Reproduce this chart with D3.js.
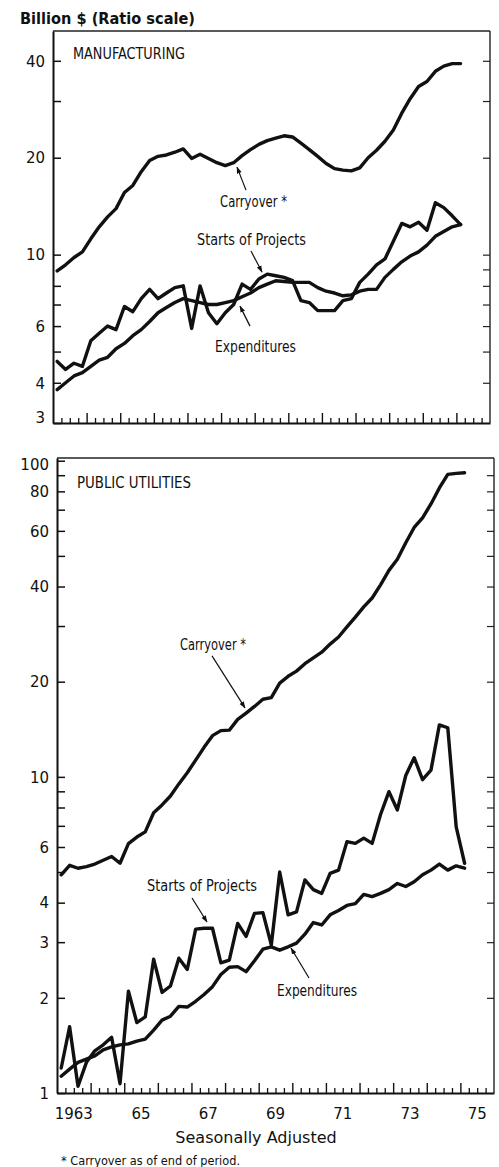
<!DOCTYPE html>
<html><head><meta charset="utf-8">
<script src="https://cdn.jsdelivr.net/npm/d3@7"></script>
<style>
body{margin:0;background:#fff;}
svg{display:block;background:#fff;}
.num{font-family:"DejaVu Sans",sans-serif;fill:#111;}
.lbl{font-family:"Liberation Sans Narrow","Arial Narrow","DejaVu Sans Condensed",sans-serif;font-stretch:condensed;fill:#111;}
</style></head><body>
<svg id="c" width="499" height="1167"></svg>
<script>
// ---------- DATA (quarterly, billion $, seasonally adjusted, 1963 Q1 - 1975 Q1) ----------
const years = [1963,1964,1965,1966,1967,1968,1969,1970,1971,1972,1973,1974,1975];
const quarterNums = [1,2,3,4];
const periods = [];
years.forEach(y => quarterNums.forEach(q => { if (periods.length < 49) periods.push({year:y, q:q}); }));

const mfgCarryover = [8.9,9.3,9.8,10.2,11.2,12.2,13.1,13.9,15.6,16.4,18.1,19.6,20.2,20.4,20.8,21.3,19.9,20.5,19.9,19.3,18.9,19.3,20.3,21.2,22.0,22.6,23.0,23.4,23.2,22.2,21.2,20.2,19.2,18.5,18.3,18.2,18.6,20.0,21.1,22.5,24.4,27.5,30.5,33.3,34.5,37.1,38.5,39.2,39.2];
const mfgStarts    = [4.66,4.4,4.6,4.5,5.4,5.7,6.0,5.85,6.9,6.65,7.3,7.8,7.3,7.6,7.9,8.0,5.9,8.0,6.6,6.1,6.6,7.0,8.1,7.8,8.4,8.7,8.6,8.5,8.3,7.2,7.1,6.7,6.7,6.7,7.2,7.3,8.2,8.7,9.3,9.7,11.0,12.5,12.2,12.6,11.9,14.5,14.0,13.2,12.4];
const mfgExpend    = [3.81,4.0,4.2,4.3,4.5,4.7,4.8,5.1,5.3,5.6,5.85,6.2,6.6,6.85,7.1,7.3,7.2,7.1,7.0,7.0,7.1,7.2,7.4,7.6,7.9,8.1,8.3,8.25,8.2,8.2,8.2,7.9,7.7,7.6,7.45,7.5,7.7,7.8,7.8,8.5,9.0,9.5,9.9,10.2,10.7,11.4,11.8,12.2,12.4];

const puCarryover  = [4.9,5.25,5.14,5.2,5.3,5.45,5.6,5.33,6.15,6.45,6.7,7.7,8.15,8.7,9.5,10.3,11.3,12.4,13.5,14.0,14.05,15.2,15.9,16.7,17.6,17.8,19.8,20.8,21.6,22.8,23.8,24.8,26.3,27.7,29.8,32,34.5,36.8,40.5,45,48.8,55,61.5,66,73,82,90.5,91.2,91.6];
const puStarts     = [1.2,1.62,1.05,1.25,1.36,1.42,1.5,1.07,2.1,1.67,1.74,2.65,2.08,2.18,2.67,2.46,3.3,3.32,3.32,2.58,2.63,3.44,3.13,3.7,3.72,2.94,5.0,3.66,3.74,4.72,4.4,4.28,4.95,5.07,6.24,6.16,6.4,6.16,7.6,8.98,7.86,10.1,11.5,9.8,10.5,14.6,14.3,6.95,5.33];
const puExpend     = [1.13,1.19,1.25,1.28,1.31,1.37,1.40,1.42,1.43,1.46,1.48,1.58,1.70,1.75,1.88,1.87,1.95,2.05,2.17,2.37,2.5,2.51,2.42,2.62,2.85,2.9,2.83,2.9,2.98,3.18,3.46,3.4,3.66,3.78,3.92,3.97,4.25,4.18,4.28,4.4,4.6,4.5,4.66,4.9,5.07,5.3,5.07,5.23,5.14];

// tick labels
const mfgTickLabels = [3,4,6,10,20,40];
const mfgLeftTicks  = [3,4,5,6,7,8,10,20,30,40];
const mfgRightTicks = [4,5,6,7,8,9,10,20,30,40];
const puTickLabels  = [1,2,3,4,6,10,20,40,60,80,100];
const puLeftTicks   = [1,2,3,4,5,6,7,8,9,10,20,30,40,50,60,70,80,90,100];
const puRightTicks  = [2,3,4,5,6,7,8,9,10,20,30,40,50,60,70,80,90];
const yearLabels    = ["1963","65","67","69","71","73","75"];
const yearLabelYears= [1963,1965,1967,1969,1971,1973,1975];

// ---------- LAYOUT ----------
const svg = d3.select("#c");
const panels = [
  { name:"MANUFACTURING", nameW:112, left:53, right:490, top:31, bottom:423, domain:[3,49.5],
    series:[mfgCarryover, mfgStarts, mfgExpend], leftTicks:mfgLeftTicks, rightTicks:mfgRightTicks,
    labels:mfgTickLabels, xLabels:false,
    ann:[
      {text:"Carryover *", w:67, tip:[1968.474,18.7], tail:[9,23], lab:[-17,40]},
      {text:"Starts of Projects", w:109, tip:[1969.217,8.83], tail:[-11,-21], lab:[-65,-27]},
      {text:"Expenditures", w:81, tip:[1968.563,6.92], tail:[10,20], lab:[-25,46]}
    ]},
  { name:"PUBLIC UTILITIES", nameW:114, left:57, right:494, top:458, bottom:1093, domain:[1,102],
    series:[puCarryover, puStarts, puExpend], leftTicks:puLeftTicks, rightTicks:puRightTicks,
    labels:puTickLabels, xLabels:true,
    ann:[
      {text:"Carryover *", w:66, tip:[1968.593,16.52], tail:[-33,-52], lab:[-65,-58]},
      {text:"Starts of Projects", w:110, tip:[1967.462,3.475], tail:[-15,-24], lab:[-60,-31]},
      {text:"Expenditures", w:80, tip:[1969.961,2.875], tail:[18,30], lab:[-14,48]}
    ]}
];

svg.append("defs").append("marker")
  .attr("id","ah").attr("viewBox","0 0 10 10").attr("refX",9).attr("refY",5)
  .attr("markerWidth",7).attr("markerHeight",7).attr("markerUnits","userSpaceOnUse")
  .attr("orient","auto")
  .append("path").attr("d","M0,1.5 L10,5 L0,8.5 Z").attr("fill","#111");

svg.append("text").attr("class","num").attr("x",20).attr("y",24)
  .attr("font-size",15).attr("font-weight","bold").attr("textLength",175)
  .attr("lengthAdjust","spacingAndGlyphs").text("Billion $ (Ratio scale)");

panels.forEach(p => {
  const x = d3.scaleLinear().domain([1963,1976]).range([p.left,p.right]);
  const y = d3.scaleLog().domain(p.domain).range([p.bottom,p.top]);
  const g = svg.append("g");

  // frame top
  g.append("line").attr("x1",p.left).attr("x2",p.right).attr("y1",p.top).attr("y2",p.top)
    .attr("stroke","#222").attr("stroke-width",1.4);

  // left axis
  const la = g.append("g").attr("transform",`translate(${p.left},0)`)
    .call(d3.axisLeft(y).tickValues(p.leftTicks).tickSize(-8).tickSizeOuter(0).tickPadding(8)
      .tickFormat(d => p.labels.includes(d) ? String(d) : ""));
  la.select(".domain").attr("stroke","#111").attr("stroke-width",2);
  la.selectAll(".tick line").attr("stroke","#111").attr("stroke-width",1.5);
  la.selectAll(".tick text").attr("class","num").attr("font-size",15).attr("fill","#111")
    .attr("dy", d => (d===3 && p.domain[0]===3) ? "-0.05em" : (d===100 ? "0.6em" : "0.35em"));

  // right axis
  const ra = g.append("g").attr("transform",`translate(${p.right},0)`)
    .call(d3.axisRight(y).tickValues(p.rightTicks).tickSize(-7).tickSizeOuter(0).tickFormat(""));
  ra.select(".domain").attr("stroke","#222").attr("stroke-width",1.4)
    .attr("d",`M0,${p.top}V${p.bottom}`);
  ra.selectAll(".tick line").attr("stroke","#222").attr("stroke-width",1.2);

  // bottom axis: quarter ticks and year ticks
  const qTicks = [];
  years.forEach(yr => quarterNums.forEach(q => { if (q>1) qTicks.push(yr + (q-1)/4); }));
  const ba = g.append("g").attr("transform",`translate(0,${p.bottom})`)
    .call(d3.axisBottom(x).tickValues(qTicks).tickSize(-5).tickSizeOuter(0).tickFormat(""));
  ba.select(".domain").attr("stroke","#111").attr("stroke-width",2);
  ba.selectAll(".tick line").attr("stroke","#111").attr("stroke-width",1.3);
  const ya = g.append("g").attr("transform",`translate(0,${p.bottom})`)
    .call(d3.axisBottom(x).tickValues(years.slice(1)).tickSize(-10).tickSizeOuter(0).tickFormat(""));
  ya.select(".domain").remove();
  ya.selectAll(".tick line").attr("stroke","#111").attr("stroke-width",1.4);

  if (p.xLabels) {
    g.selectAll(".yl").data(yearLabelYears).enter().append("text")
      .attr("class","num").attr("font-size",15).attr("text-anchor","middle")
      .attr("x", d => x(d + 0.5)).attr("y", p.bottom + 26)
      .text((d,i) => yearLabels[i]);
  }

  // panel title
  g.append("text").attr("class","lbl").attr("x",p.left+20).attr("y",p.top + (p.xLabels?30:28))
    .attr("font-size",16).attr("textLength",p.nameW).attr("lengthAdjust","spacingAndGlyphs")
    .text(p.name);

  // lines
  const line = d3.line()
    .x((d,i) => x(periods[i].year + (periods[i].q - 0.5)/4))
    .y(d => y(d));
  p.series.forEach(s => {
    g.append("path").datum(s).attr("d",line).attr("fill","none")
      .attr("stroke","#111").attr("stroke-width",3.4)
      .attr("stroke-linejoin","round").attr("stroke-linecap","round");
  });

  // annotations
  p.ann.forEach(a => {
    const tx = x(a.tip[0]), ty = y(a.tip[1]);
    g.append("line").attr("x1",tx+a.tail[0]).attr("y1",ty+a.tail[1]).attr("x2",tx).attr("y2",ty)
      .attr("stroke","#111").attr("stroke-width",1.2).attr("marker-end","url(#ah)");
    g.append("text").attr("class","lbl").attr("font-size",16.5)
      .attr("x",tx+a.lab[0]).attr("y",ty+a.lab[1])
      .attr("textLength",a.w).attr("lengthAdjust","spacingAndGlyphs").text(a.text);
  });
});

svg.append("text").attr("class","num").attr("x",256).attr("y",1143).attr("text-anchor","middle")
  .attr("font-size",16).text("Seasonally Adjusted");
svg.append("text").attr("class","lbl").attr("x",61).attr("y",1165).attr("font-size",12.5)
  .attr("textLength",179).attr("lengthAdjust","spacingAndGlyphs")
  .text("* Carryover as of end of period.");
</script>
</body></html>
